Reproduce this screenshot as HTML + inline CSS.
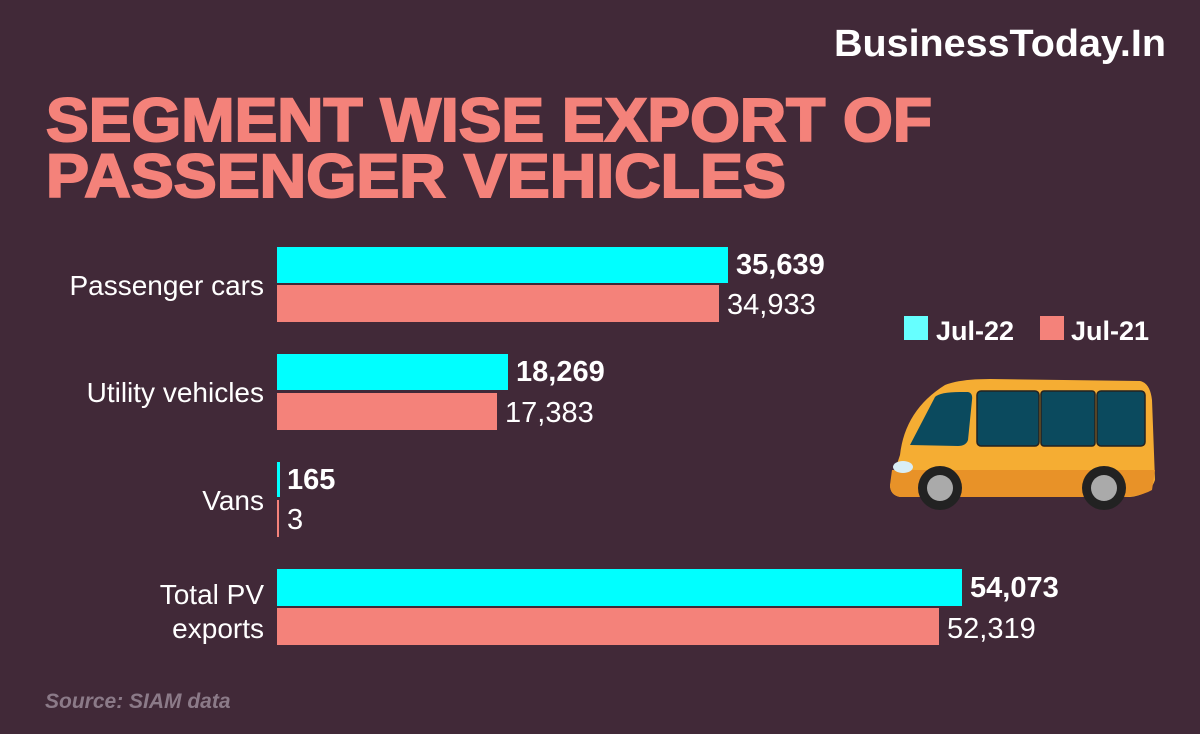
<!DOCTYPE html>
<html><head><style>html,body{margin:0;padding:0;background:#412938;}svg{display:block}</style></head>
<body>
<svg width="1200" height="734" viewBox="0 0 1200 734" xmlns="http://www.w3.org/2000/svg" font-family="Liberation Sans, Arial, sans-serif">
<rect width="1200" height="734" fill="#412938"/>
<text x="1166" y="56" text-anchor="end" fill="#fff" font-weight="bold" font-size="38" textLength="332" lengthAdjust="spacingAndGlyphs">BusinessToday.In</text>
<text x="46" y="141" fill="#f4827a" font-weight="bold" font-size="61" stroke="#f4827a" stroke-width="2" textLength="886" lengthAdjust="spacingAndGlyphs">SEGMENT WISE EXPORT OF</text>
<text x="46" y="197" fill="#f4827a" font-weight="bold" font-size="61" stroke="#f4827a" stroke-width="2" textLength="740" lengthAdjust="spacingAndGlyphs">PASSENGER VEHICLES</text>
<g fill="#fff" font-size="28" text-anchor="end">
<text x="264" y="295">Passenger cars</text>
<text x="264" y="402">Utility vehicles</text>
<text x="264" y="510">Vans</text>
<text x="264" y="604">Total PV</text>
<text x="264" y="638">exports</text>
</g>
<rect x="277" y="247" width="451" height="36" fill="#00ffff"/>
<rect x="277" y="285" width="442" height="37" fill="#f4827a"/>
<rect x="277" y="354" width="231" height="36" fill="#00ffff"/>
<rect x="277" y="393" width="220" height="37" fill="#f4827a"/>
<rect x="277" y="462" width="3" height="35" fill="#00ffff"/>
<rect x="277" y="500" width="2" height="37" fill="#f4827a"/>
<rect x="277" y="569" width="685" height="37" fill="#00ffff"/>
<rect x="277" y="608" width="662" height="37" fill="#f4827a"/>
<g fill="#fff" font-size="29">
<text x="736" y="274" font-weight="bold">35,639</text>
<text x="727" y="314">34,933</text>
<text x="516" y="381" font-weight="bold">18,269</text>
<text x="505" y="422">17,383</text>
<text x="287" y="489" font-weight="bold">165</text>
<text x="287" y="529">3</text>
<text x="970" y="597" font-weight="bold">54,073</text>
<text x="947" y="638">52,319</text>
</g>
<rect x="904" y="316" width="24" height="24" fill="#66ffff"/>
<text x="936" y="340" fill="#fff" font-weight="bold" font-size="27">Jul-22</text>
<rect x="1040" y="316" width="24" height="24" fill="#f4827a"/>
<text x="1071" y="340" fill="#fff" font-weight="bold" font-size="27">Jul-21</text>
<g>
<path d="M900 455 Q905 410 945 385 Q960 379 990 379 L1140 381 Q1150 383 1152 400 L1155 480 Q1150 495 1130 497 L900 497 Q890 495 890 485 Z" fill="#f5ad33"/>
<path d="M892 470 L1155 470 L1152 490 Q1140 497 1120 497 L900 497 Q890 495 890 485 Z" fill="#e89228"/>
<path d="M910 445 L935 397 Q940 392 960 392 L968 392 Q973 393 972 400 L968 440 Q966 446 958 446 Z" fill="#0b4a5e"/>
<rect x="977" y="391" width="62" height="55" rx="4" fill="#0b4a5e" stroke="#222" stroke-width="1.5"/>
<rect x="1041" y="391" width="54" height="55" rx="3" fill="#0b4a5e" stroke="#222" stroke-width="1.5"/>
<rect x="1097" y="391" width="48" height="55" rx="4" fill="#0b4a5e" stroke="#222" stroke-width="1.5"/>
<ellipse cx="903" cy="467" rx="10" ry="6" fill="#d9eef5"/>
<circle cx="940" cy="488" r="22" fill="#222"/><circle cx="940" cy="488" r="13" fill="#aaa"/>
<circle cx="1104" cy="488" r="22" fill="#222"/><circle cx="1104" cy="488" r="13" fill="#aaa"/>
</g>
<text x="45" y="708" fill="#8b7a88" font-weight="bold" font-style="italic" font-size="21">Source: SIAM data</text>
</svg>
</body></html>
